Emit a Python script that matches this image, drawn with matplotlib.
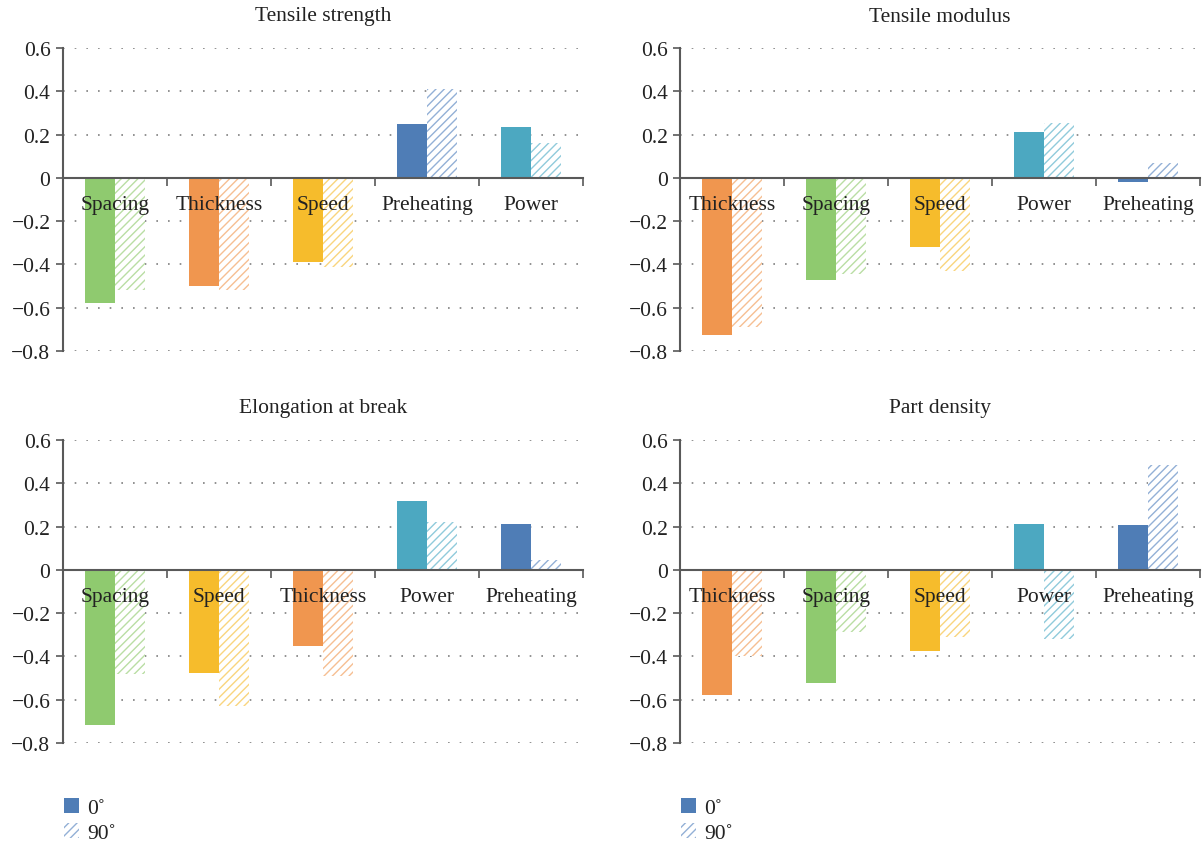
import matplotlib.pyplot as plt
import matplotlib.patches as mpatches
import numpy as np
from matplotlib.ticker import FuncFormatter

plt.rcParams['font.family'] = ['Liberation Serif', 'DejaVu Serif']
plt.rcParams['hatch.linewidth'] = 1.0

colors = {
    'Spacing': '#8fca6f',
    'Thickness': '#f0964f',
    'Speed': '#f6bc2c',
    'Preheating': '#4f7db6',
    'Power': '#4ca8c1',
}
light = {
    'Spacing': '#b9dea4',
    'Thickness': '#f6bf92',
    'Speed': '#f9d57e',
    'Preheating': '#93b0d6',
    'Power': '#90cbdb',
}

# tensile strength
ts_cats = ['Spacing', 'Thickness', 'Speed', 'Preheating', 'Power']
ts_0 = [-0.58, -0.50, -0.39, 0.25, 0.235]
ts_90 = [-0.52, -0.52, -0.41, 0.41, 0.16]

# tensile modulus
tm_cats = ['Thickness', 'Spacing', 'Speed', 'Power', 'Preheating']
tm_0 = [-0.725, -0.47, -0.32, 0.21, -0.02]
tm_90 = [-0.69, -0.445, -0.43, 0.255, 0.07]

# elongation at break
eb_cats = ['Spacing', 'Speed', 'Thickness', 'Power', 'Preheating']
eb_0 = [-0.715, -0.475, -0.35, 0.32, 0.21]
eb_90 = [-0.48, -0.63, -0.49, 0.22, 0.045]

# part density
pd_cats = ['Thickness', 'Spacing', 'Speed', 'Power', 'Preheating']
pd_0 = [-0.58, -0.525, -0.375, 0.21, 0.205]
pd_90 = [-0.40, -0.285, -0.31, -0.32, 0.485]

panels = [
    ('Tensile strength', ts_cats, ts_0, ts_90),
    ('Tensile modulus', tm_cats, tm_0, tm_90),
    ('Elongation at break', eb_cats, eb_0, eb_90),
    ('Part density', pd_cats, pd_0, pd_90),
]
yticks = [0.6, 0.4, 0.2, 0, -0.2, -0.4, -0.6, -0.8]

fig = plt.figure(figsize=(12.02, 8.45), dpi=100)
W, H = 1202, 845
boxes = [(63, 49), (680, 49), (63, 441), (680, 441)]
title_y = [17, 17, 409, 409]
axw, axh = 520, 303

axis_col = '#595959'
text_col = '#222222'
fs = 15.5


def fmt(v, pos):
    if abs(v) < 1e-9:
        return '0'
    return f'{v:.1f}'.replace('-', '\u2212')


for (title, cats, v0, v90), (bx, by), ty in zip(panels, boxes, title_y):
    ax = fig.add_axes([bx / W, 1 - (by + axh) / H, axw / W, axh / H])
    ax.set_axisbelow(False)
    x = np.arange(len(cats))
    w = 0.29
    for i, c in enumerate(cats):
        ax.bar(x[i] - w / 2, v0[i], w, color=colors[c], zorder=2)
        ax.bar(x[i] + w / 2, v90[i], w, facecolor='white', edgecolor=light[c],
               linewidth=0, hatch='////', zorder=2)
    ax.set_xlim(-0.5, len(cats) - 0.5)
    ax.set_ylim(-0.8, 0.6)
    for yv in yticks:
        if yv != 0:
            ax.axhline(yv, color='#7f7f7f', lw=1.2, ls=(0, (1, 6)), zorder=0)

    ax.spines['top'].set_visible(False)
    ax.spines['right'].set_visible(False)
    ax.spines['bottom'].set_position(('data', 0))
    ax.spines['bottom'].set_color(axis_col)
    ax.spines['bottom'].set_linewidth(1.5)
    ax.spines['left'].set_color(axis_col)
    ax.spines['left'].set_linewidth(1.5)

    ax.set_yticks(yticks)
    ax.yaxis.set_major_formatter(FuncFormatter(fmt))
    ax.tick_params(axis='y', direction='out', length=5, width=1.2, color=axis_col,
                   labelsize=fs, pad=4, labelcolor=text_col)

    ax.set_xticks(np.arange(len(cats) + 1) - 0.5)
    ax.set_xticklabels([])
    ax.tick_params(axis='x', which='major', direction='out', length=6, width=1.2,
                   color=axis_col)
    ax.set_xticks(x, minor=True)
    ax.set_xticklabels(cats, minor=True)
    ax.tick_params(axis='x', which='minor', length=0, labelsize=fs, pad=12,
                   labelcolor=text_col)

    fig.text((bx + axw / 2) / W, 1 - ty / H, title, ha='center', va='center',
             fontsize=fs, color=text_col)

# legends under the bottom panels
for lx in (63, 680):
    h0 = mpatches.Patch(facecolor='#4f7db6', edgecolor='#4f7db6', lw=0)
    h90 = mpatches.Patch(facecolor='white', edgecolor='#93b0d6', lw=0, hatch='////')
    fig.legend([h0, h90], ['0\u02da', '90\u02da'], loc='upper left',
               bbox_to_anchor=(lx / W - 0.008, 1 - 788 / H), frameon=False,
               fontsize=fs, handlelength=0.7, handleheight=0.7,
               handletextpad=0.35, labelspacing=0.25, borderpad=0,
               labelcolor=text_col)

fig.savefig('out.png', dpi=100)
